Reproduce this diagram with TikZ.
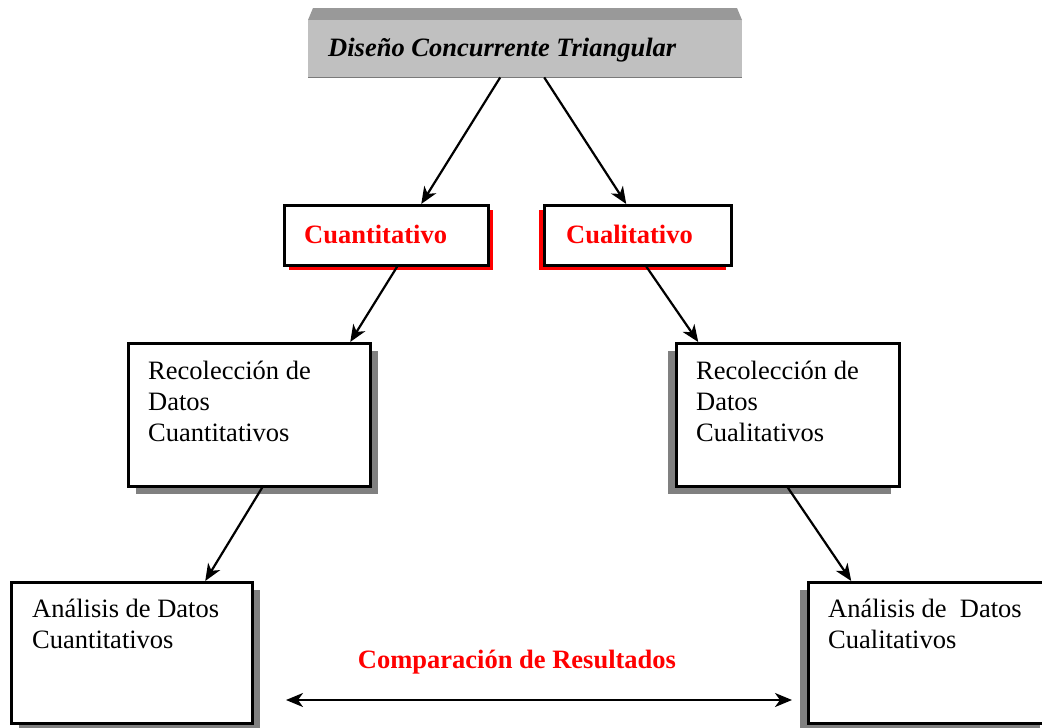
\documentclass[tikz,border=0pt]{standalone}
\usepackage{fontspec}
\setmainfont{Liberation Serif}
\usetikzlibrary{arrows.meta,shadows}
\definecolor{shadowgray}{HTML}{808080}
\definecolor{facegray}{HTML}{C0C0C0}
\definecolor{topgray}{HTML}{999999}
\begin{document}
\begin{tikzpicture}[x=1pt,y=-1pt,
  txt/.style={font=\fontsize{26.5}{31}\selectfont, inner sep=0pt, anchor=base west, align=left},
  redtxt/.style={txt, font=\fontsize{26.5}{31}\selectfont\bfseries, text=red},
  boxbase/.style={draw=black, line width=2.5pt, fill=white, inner sep=0pt, anchor=north west},
  grayR/.style={boxbase, general shadow={fill=shadowgray, shadow xshift=8pt, shadow yshift=-8pt}},
  grayL/.style={boxbase, general shadow={fill=shadowgray, shadow xshift=-8pt, shadow yshift=-8pt}},
  redR/.style={boxbase, general shadow={fill=red, shadow xshift=5pt, shadow yshift=-5pt}},
  redL/.style={boxbase, general shadow={fill=red, shadow xshift=-5pt, shadow yshift=-5pt}},
  arr/.style={line width=2.2pt, -{Stealth[length=17pt,width=14pt,inset=5pt]}},
  darr/.style={line width=2.2pt, {Stealth[length=17pt,width=14pt,inset=5pt]}-{Stealth[length=17pt,width=14pt,inset=5pt]}}
]
\useasboundingbox (0,0) rectangle (1042,728);
\fill[white] (0,0) rectangle (1042,728);

% title block (bevelled)
\fill[topgray] (313,8) -- (737,8) -- (742,20) -- (308,20) -- cycle;
\node[fill=facegray, inner sep=0pt, minimum width=434pt, minimum height=57pt, anchor=north west] (top) at (308,20) {};
\draw[topgray!80!black, line width=0.8pt] (top.south west) -- (top.south east);
\node[txt, font=\fontsize{26.5}{31}\selectfont\bfseries\itshape] (toptxt) at (328,56) {Diseño Concurrente Triangular};

% second row
\node[redR, minimum width=204pt, minimum height=60pt] (cuant) at (283,204) {};
\node[redtxt] (cuanttxt) at ([shift={(21,39)}]cuant.north west) {Cuantitativo};
\node[redL, minimum width=187pt, minimum height=60pt] (cual) at (543,204) {};
\node[redtxt] (cualtxt) at ([shift={(23,39)}]cual.north west) {Cualitativo};

% third row (base anchor = last line baseline)
\node[grayR, minimum width=242pt, minimum height=143pt] (rq) at (127,342) {};
\node[txt] (rqtxt) at ([shift={(21,99)}]rq.north west) {Recolección de\\Datos\\Cuantitativos};
\node[grayL, minimum width=223pt, minimum height=143pt] (rl) at (675,342) {};
\node[txt] (rltxt) at ([shift={(21,99)}]rl.north west) {Recolección de\\Datos\\Cualitativos};

% fourth row
\node[grayR, minimum width=241pt, minimum height=141pt] (aq) at (10,581) {};
\node[txt] (aqtxt) at ([shift={(22,67)}]aq.north west) {Análisis de Datos\\Cuantitativos};
\node[grayL, minimum width=240pt, minimum height=141pt] (al) at (807,581) {};
\node[txt] (altxt) at ([shift={(21,67)}]al.north west) {Análisis de\ \ Datos\\Cualitativos};

% comparison
\node[redtxt, anchor=base] (comp) at (517,668) {Comparación de Resultados};
\coordinate (cl) at (286,700);
\coordinate (cr) at (792,700);
\draw[darr] (cl) -- (cr);

% arrows
\draw[arr] ([xshift=-25pt]top.south) -- ([xshift=35pt]cuant.north);
\draw[arr] ([xshift=19pt]top.south) -- ([xshift=-11.5pt]cual.north);
\draw[arr] ([xshift=11pt]cuant.south) -- ([xshift=101pt]rq.north);
\draw[arr] ([xshift=8.5pt]cual.south) -- ([xshift=-89.5pt]rl.north);
\draw[arr] ([xshift=13pt]rq.south) -- ([xshift=73.5pt]aq.north);
\draw[arr] ([xshift=0pt]rl.south) -- ([xshift=-77pt]al.north);
\end{tikzpicture}
\end{document}
